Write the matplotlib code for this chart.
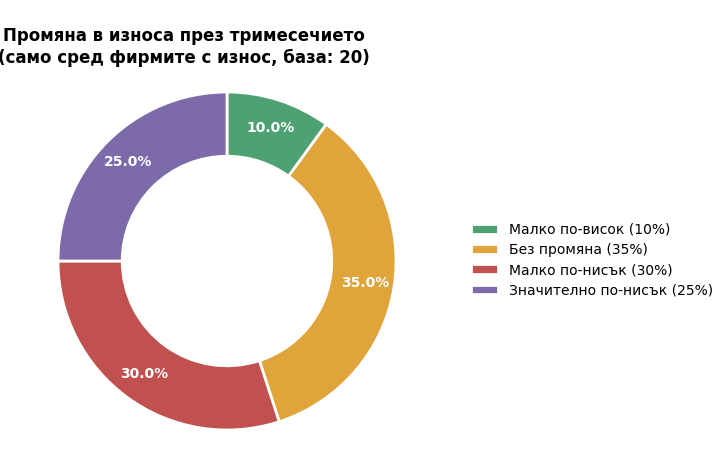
import matplotlib
matplotlib.use("Agg")
import matplotlib.pyplot as plt

labels = ["Малко по-висок (10%)", "Без промяна (35%)", "Малко по-нисък (30%)", "Значително по-нисък (25%)"]
values = [10, 35, 30, 25]
colors = ["#4DA173", "#E0A53A", "#C0514E", "#7D6AA9"]
title = "Промяна в износа през тримесечието\n(само сред фирмите с износ, база: 20)"

fig = plt.figure(figsize=(7.2, 4.75), dpi=100)
ax = fig.add_axes([58/720, 45/475, 338/720, 338/475])
wedges, texts, autotexts = ax.pie(
    values, colors=colors, startangle=90, counterclock=False,
    autopct="%1.1f%%", pctdistance=0.83,
    wedgeprops=dict(width=0.38, edgecolor="white", linewidth=2),
    textprops=dict(color="white", fontsize=10, fontweight="bold"),
)
ax.set_xlim(-1, 1)
ax.set_ylim(-1, 1)
ax.set_aspect("equal")

fig.text(184/720, 1 - 47/475, title, ha="center", va="center",
         fontsize=12, fontweight="bold", linespacing=1.25)

fig.legend(wedges, labels, loc="center left", bbox_to_anchor=(458/720, 1 - 260/475),
           frameon=False, fontsize=10, handlelength=2, handleheight=0.7,
           labelspacing=0.45)

fig.savefig("out.png", dpi=100)
